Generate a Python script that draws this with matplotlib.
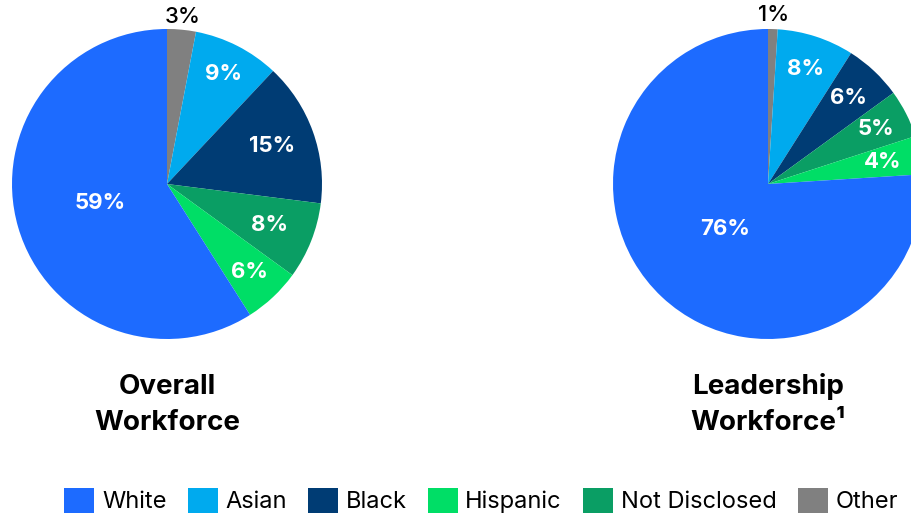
import numpy as np
import matplotlib.pyplot as plt
from matplotlib.patches import Patch

plt.rcParams['font.family'] = ['Inter', 'DejaVu Sans']

# Groups in drawing order, clockwise from 12 o'clock
groups = ['Other', 'Asian', 'Black', 'Not Disclosed', 'Hispanic', 'White']
colors = ['#808080', '#00AAEE', '#003C74', '#0A9E64', '#00DE66', '#1D6BFF']

overall = [3, 9, 15, 8, 6, 59]
leadership = [1, 8, 6, 5, 4, 76]

legend_order = ['White', 'Asian', 'Black', 'Hispanic', 'Not Disclosed', 'Other']

fig = plt.figure(figsize=(9.11, 5.19), dpi=100)
ax = fig.add_axes([0, 0, 1, 1])

R = 155


def draw_pie(values, cx, cy, label_r, title):
    wedges, _ = ax.pie(values, colors=colors, startangle=90, counterclock=False,
                       center=(cx, cy), radius=R,
                       wedgeprops=dict(linewidth=0))
    for w, v, lr in zip(wedges, values, label_r):
        ang = np.deg2rad((w.theta1 + w.theta2) / 2)
        x = cx + lr * R * np.cos(ang)
        y = cy + lr * R * np.sin(ang)
        if lr > 1:
            ax.text(x, y, f'{v}%', ha='center', va='center', color='black',
                    fontsize=16, fontweight='medium')
        else:
            ax.text(x, y, f'{v}%', ha='center', va='center', color='white',
                    fontsize=16, fontweight='bold')
    ax.text(cx, cy - 221, title, ha='center', va='center', fontsize=20,
            fontweight='bold', linespacing=1.5)


draw_pie(overall, 167, 335, [1.08, 0.8, 0.72, 0.71, 0.78, 0.45],
         'Overall\nWorkforce')
draw_pie(leadership, 768, 335, [1.09, 0.78, 0.76, 0.78, 0.75, 0.40],
         'Leadership\nWorkforce\u00b9')

ax.set_xlim(0, 911)
ax.set_ylim(0, 519)
ax.set_aspect('equal')
ax.axis('off')

color_of = dict(zip(groups, colors))
handles = [Patch(facecolor=color_of[g], label=g) for g in legend_order]
fig.legend(handles=handles, loc='center', bbox_to_anchor=(0.528, 0.036),
           ncol=6, frameon=False, fontsize=17, handlelength=1.27,
           handleheight=1.27, handletextpad=0.32, columnspacing=0.9,
           borderaxespad=0, labelcolor='black')

fig.savefig('out.png', dpi=100)
